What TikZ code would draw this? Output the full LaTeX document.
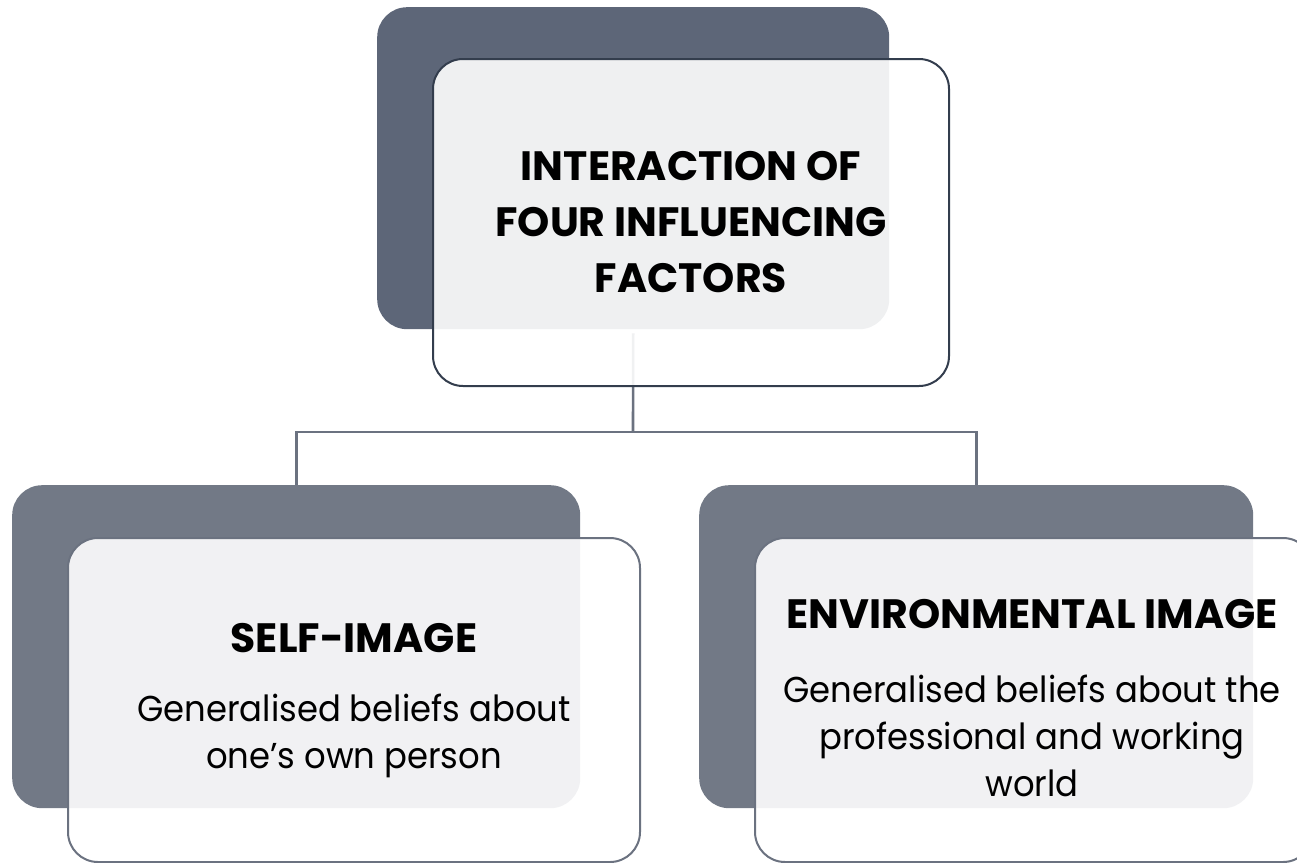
\documentclass[tikz,border=0pt]{standalone}
\usepackage{fontspec}
\setmainfont{Poppins}
\newfontfamily\headfont{Poppins}
\newfontfamily\bodyfont[FakeStretch=0.94]{Poppins}
\definecolor{topslate}{HTML}{5D6678}
\definecolor{lowslate}{HTML}{727986}
\definecolor{topedge}{HTML}{333D4D}
\definecolor{lowedge}{HTML}{6B7280}
\definecolor{linkgray}{HTML}{6B7280}
\newcommand{\headstyle}{\headfont\bfseries\fontsize{41}{56}\selectfont}
\newcommand{\bodystyle}{\bodyfont\mdseries\fontsize{36}{47}\selectfont}
\tikzset{
  backcard/.style={rectangle, rounded corners=30pt, anchor=north west, inner sep=0pt},
  frontcard/.style={rectangle, rounded corners=30pt, anchor=north west, inner sep=0pt,
    fill=white, fill opacity=0.9, line width=2pt},
  heading/.style={font=\headstyle, align=center, inner sep=0pt},
  bodytext/.style={font=\bodystyle, align=center, inner sep=0pt},
  link/.style={draw=linkgray, line width=2.6pt},
}
\begin{document}
\begin{tikzpicture}[x=1pt,y=-1pt]
\useasboundingbox (0,0) rectangle (1297,862);
% back cards
\node[backcard, fill=topslate, minimum width=512pt, minimum height=322pt] (topback) at (377,7) {};
\node[backcard, fill=lowslate, minimum width=568pt, minimum height=323pt] (leftback) at (12,485) {};
\node[backcard, fill=lowslate, minimum width=554pt, minimum height=323pt] (rightback) at (699,485) {};
% connectors
\coordinate (junction) at (633,432);
\draw[link, shorten <=4pt] (topback.south) -- (junction);
\draw[link] (junction) -| (leftback.north);
\draw[link] (junction) -| (rightback.north);
% front cards
\node[frontcard, draw=topedge, minimum width=516pt, minimum height=327pt] (topfront) at (432,58) {};
\node[frontcard, draw=lowedge, minimum width=572pt, minimum height=324pt] (leftfront) at (67,537) {};
\node[frontcard, draw=lowedge, minimum width=558pt, minimum height=324pt] (rightfront) at (754,537) {};
% card texts
\node[heading] (toptitle) at (topfront.center) {INTERACTION OF\\FOUR INFLUENCING\\FACTORS};
\node[heading] (lefttitle) at ([yshift=62pt]leftfront.center) {SELF-IMAGE};
\node[bodytext] (leftbody) at ([yshift=-36pt]leftfront.center) {Generalised beliefs about\\one’s own person};
\node[heading] (righttitle) at ([yshift=86pt, xshift=-2pt]rightfront.center) {ENVIRONMENTAL IMAGE};
\node[bodytext] (rightbody) at ([yshift=-36pt, xshift=-2pt]rightfront.center) {Generalised beliefs about the\\professional and working\\world};
\end{tikzpicture}
\end{document}
